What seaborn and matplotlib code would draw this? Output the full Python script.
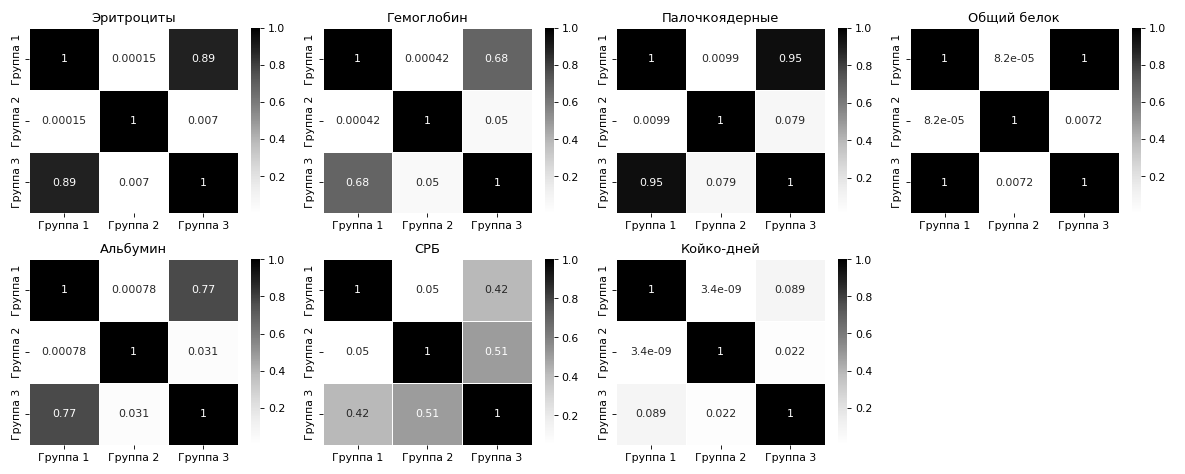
import numpy as np
import pandas as pd
import matplotlib
matplotlib.use('Agg')
import matplotlib.pyplot as plt
import seaborn as sns

groups = ['Группа 1', 'Группа 2', 'Группа 3']

titles = ['Эритроциты', 'Гемоглобин', 'Палочкоядерные', 'Общий белок',
          'Альбумин', 'СРБ', 'Койко-дней']

# p-values: (1 vs 2, 1 vs 3, 2 vs 3)
p12 = [0.00015, 0.00042, 0.0099, 8.2e-05, 0.00078, 0.05, 3.4e-09]
p13 = [0.89, 0.68, 0.95, 1.0, 0.77, 0.42, 0.089]
p23 = [0.007, 0.05, 0.079, 0.0072, 0.031, 0.51, 0.022]

fig, axes = plt.subplots(2, 4, figsize=(15.2, 6.08), dpi=78)
axes = axes.flatten()

for i, title in enumerate(titles):
    m = np.array([[1, p12[i], p13[i]],
                  [p12[i], 1, p23[i]],
                  [p13[i], p23[i], 1]])
    df = pd.DataFrame(m, index=groups, columns=groups)
    sns.heatmap(df, annot=True, cmap='Greys', linewidths=0.5, ax=axes[i])
    axes[i].set_title(title)

axes[7].axis('off')

plt.tight_layout()
plt.savefig('out.png', dpi=78)
